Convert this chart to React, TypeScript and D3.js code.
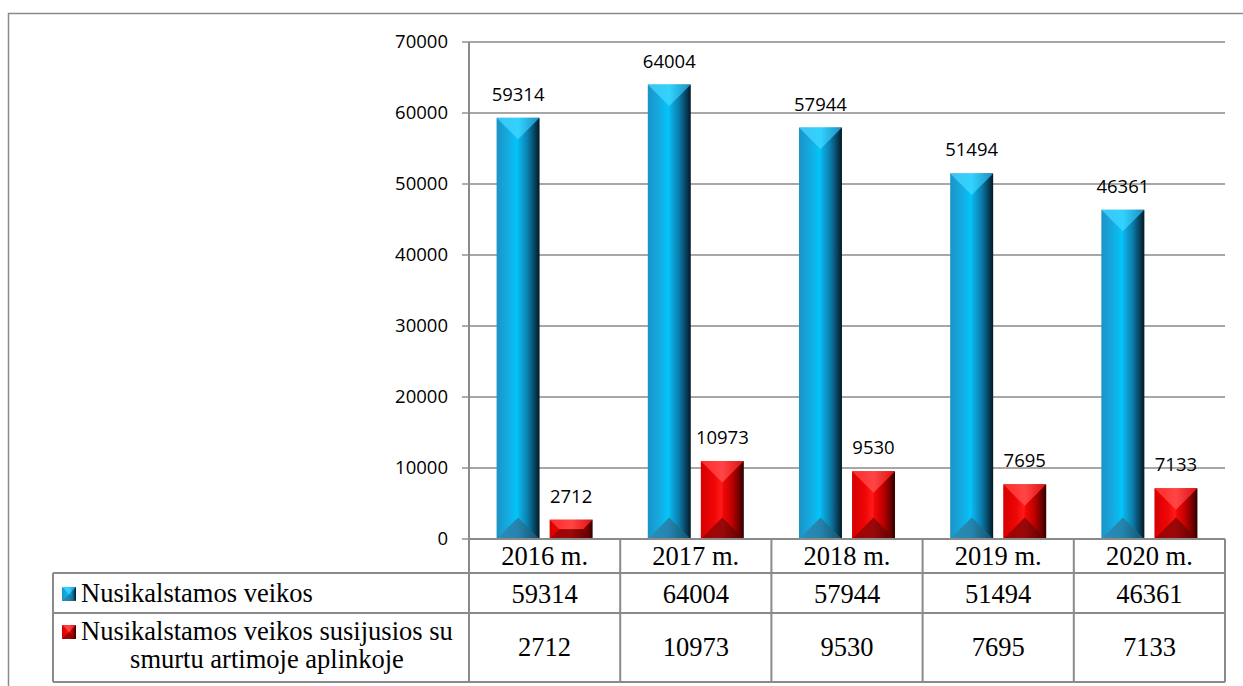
import React from "react";
import * as d3 from "d3";

const years = ["2016 m.", "2017 m.", "2018 m.", "2019 m.", "2020 m."];
const seriesKeys = ["crimes", "domestic"];
const seriesLabel1 = "Nusikalstamos veikos";
const seriesLabel2a = "Nusikalstamos veikos susijusios su";
const seriesLabel2b = "smurtu artimoje aplinkoje";
const crimes = [59314, 64004, 57944, 51494, 46361];
const domestic = [2712, 10973, 9530, 7695, 7133];
const yTicks = [0, 10000, 20000, 30000, 40000, 50000, 60000, 70000];

const W = 1243;
const H = 686;
const plotLeft = 469;
const plotRight = 1225;
const plotTop = 42;
const plotBottom = 539;
const rowLines = [539, 573, 613, 682];
const legendLeft = 53;
const gridColor = "#8a8a8a";
const sansFont = "'Open Sans', 'Liberation Sans', sans-serif";
const serifFont = "'Liberation Serif', 'Times New Roman', serif";
const tableFontSize = 26.5;

type BevelProps = { x: number; y: number; w: number; h: number; kind: "blue" | "red" };

function BevelBar({ x, y, w, h, kind }: BevelProps) {
  const b = Math.min(w / 2, h / 2);
  const topPts = [
    [x, y],
    [x + w, y],
    [x + w - b, y + b],
    [x + b, y + b],
  ];
  const botPts = [
    [x, y + h],
    [x + w, y + h],
    [x + w - b, y + h - b],
    [x + b, y + h - b],
  ];
  const toStr = (p: number[][]) => p.map((q) => q.join(",")).join(" ");
  return (
    <g>
      <rect x={x} y={y} width={w} height={h} fill={`url(#grad-${kind})`} />
      <polygon points={toStr(topPts)} fill={`url(#grad-${kind}-top)`} />
      <polygon points={toStr(botPts)} fill={`url(#grad-${kind}-bot)`} />
    </g>
  );
}

export default function App() {
  const x0 = d3.scaleBand<string>().domain(years).range([plotLeft, plotRight]).paddingInner(0).paddingOuter(0);
  const x1 = d3
    .scaleBand<string>()
    .domain(seriesKeys)
    .range([0, x0.bandwidth()])
    .paddingInner(0.19)
    .paddingOuter(0.52);
  const y = d3.scaleLinear().domain([0, 70000]).range([plotBottom, plotTop]);

  const seriesData: Record<string, number[]> = { crimes, domestic };
  const kinds: Record<string, "blue" | "red"> = { crimes: "blue", domestic: "red" };

  const colEdges = years.map((yr) => x0(yr) as number).concat([plotRight]);

  return (
    <svg
      width={W}
      height={H}
      style={{ position: "absolute", left: 0, top: 0, display: "block", background: "#fff" }}
    >
      <defs>
        <linearGradient id="grad-blue" x1="0" x2="1" y1="0" y2="0">
          <stop offset="0" stopColor="#1c93c6" />
          <stop offset="0.3" stopColor="#13aee4" />
          <stop offset="0.48" stopColor="#00c6fb" />
          <stop offset="0.52" stopColor="#0cb2e8" />
          <stop offset="0.72" stopColor="#0b7fae" />
          <stop offset="0.9" stopColor="#073e5a" />
          <stop offset="1" stopColor="#031823" />
        </linearGradient>
        <linearGradient id="grad-blue-top" x1="0" x2="1" y1="0" y2="0">
          <stop offset="0" stopColor="#3fc4f0" />
          <stop offset="0.5" stopColor="#33d2ff" />
          <stop offset="1" stopColor="#1a8fc0" />
        </linearGradient>
        <linearGradient id="grad-blue-bot" x1="0" x2="1" y1="0" y2="0">
          <stop offset="0" stopColor="#2a8fba" />
          <stop offset="0.5" stopColor="#2484ad" />
          <stop offset="1" stopColor="#13506c" />
        </linearGradient>
        <linearGradient id="grad-red" x1="0" x2="1" y1="0" y2="0">
          <stop offset="0" stopColor="#d60000" />
          <stop offset="0.3" stopColor="#ee0606" />
          <stop offset="0.48" stopColor="#ff1a1a" />
          <stop offset="0.52" stopColor="#f20808" />
          <stop offset="0.72" stopColor="#c00000" />
          <stop offset="0.9" stopColor="#6a0000" />
          <stop offset="1" stopColor="#2e0000" />
        </linearGradient>
        <linearGradient id="grad-red-top" x1="0" x2="1" y1="0" y2="0">
          <stop offset="0" stopColor="#ff2a2a" />
          <stop offset="0.5" stopColor="#ff4545" />
          <stop offset="1" stopColor="#e01010" />
        </linearGradient>
        <linearGradient id="grad-red-bot" x1="0" x2="1" y1="0" y2="0">
          <stop offset="0" stopColor="#a60000" />
          <stop offset="0.5" stopColor="#9a0808" />
          <stop offset="1" stopColor="#5a0000" />
        </linearGradient>
      </defs>

      {/* outer frame */}
      <rect x={8.5} y={13.5} width={1300} height={720} fill="none" stroke={gridColor} strokeWidth={1.5} />

      {/* gridlines */}
      {yTicks.filter((t) => t > 0).map((t) => (
        <line key={t} x1={plotLeft} x2={plotRight} y1={y(t)} y2={y(t)} stroke={gridColor} strokeWidth={1.4} />
      ))}

      {/* y ticks and labels */}
      {yTicks.map((t) => (
        <g key={"t" + t}>
          <line x1={plotLeft - 7} x2={plotLeft} y1={y(t)} y2={y(t)} stroke={gridColor} strokeWidth={1.4} />
          <text
            x={plotLeft - 21}
            y={y(t)}
            dy="0.35em"
            textAnchor="end"
            fontFamily={sansFont}
            fontSize={18.5}
            fill="#000"
          >
            {t}
          </text>
        </g>
      ))}

      {/* bars */}
      {years.map((yr, i) => (
        <g key={yr}>
          {seriesKeys.map((k) => {
            const v = seriesData[k][i];
            const bx = (x0(yr) as number) + (x1(k) as number);
            const bw = x1.bandwidth();
            const by = y(v);
            const bh = plotBottom - by;
            return (
              <g key={k}>
                <BevelBar x={bx} y={by} w={bw} h={bh} kind={kinds[k]} />
                <text
                  x={bx + bw / 2}
                  y={by - 17}
                  textAnchor="middle"
                  fontFamily={sansFont}
                  fontSize={18.5}
                  fill="#000"
                >
                  {v}
                </text>
              </g>
            );
          })}
        </g>
      ))}

      {/* y axis line, continuing through the table */}
      <line x1={plotLeft} x2={plotLeft} y1={plotTop} y2={rowLines[3]} stroke={gridColor} strokeWidth={2} />

      {/* data table */}
      <g stroke={gridColor} strokeWidth={2} fill="none">
        <line x1={plotLeft} x2={plotRight} y1={rowLines[0]} y2={rowLines[0]} />
        <line x1={legendLeft} x2={plotRight} y1={rowLines[1]} y2={rowLines[1]} />
        <line x1={legendLeft} x2={plotRight} y1={rowLines[2]} y2={rowLines[2]} />
        <line x1={legendLeft} x2={plotRight} y1={rowLines[3]} y2={rowLines[3]} />
        <line x1={legendLeft} x2={legendLeft} y1={rowLines[1]} y2={rowLines[3]} />
        {colEdges.slice(1).map((cx, i) => (
          <line key={i} x1={cx} x2={cx} y1={rowLines[0]} y2={rowLines[3]} />
        ))}
      </g>

      {years.map((yr, i) => {
        const cx = (x0(yr) as number) + x0.bandwidth() / 2;
        return (
          <g key={"tbl" + yr} fontFamily={serifFont} fontSize={tableFontSize} fill="#000" textAnchor="middle">
            <text x={cx} y={565}>{yr}</text>
            <text x={cx} y={603}>{crimes[i]}</text>
            <text x={cx} y={656}>{domestic[i]}</text>
          </g>
        );
      })}

      {/* legend column */}
      <BevelBar x={62} y={587} w={14} h={14} kind="blue" />
      <text x={81} y={602} fontFamily={serifFont} fontSize={tableFontSize} fill="#000">
        {seriesLabel1}
      </text>
      <BevelBar x={62} y={625} w={14} h={14} kind="red" />
      <text x={81} y={640} fontFamily={serifFont} fontSize={tableFontSize} fill="#000">
        {seriesLabel2a}
      </text>
      <text x={267} y={668} textAnchor="middle" fontFamily={serifFont} fontSize={tableFontSize} fill="#000">
        {seriesLabel2b}
      </text>
    </svg>
  );
}
